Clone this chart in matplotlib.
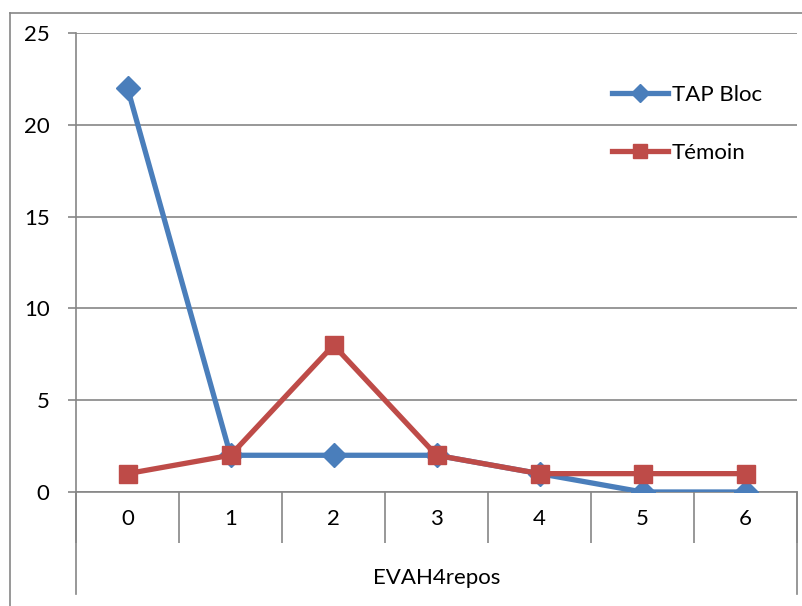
import matplotlib.pyplot as plt
from matplotlib.lines import Line2D

# Data
categories = ["0", "1", "2", "3", "4", "5", "6"]
tap_bloc = [22, 2, 2, 2, 1, 0, 0]
temoin = [1, 2, 8, 2, 1, 1, 1]
y_ticks = [0, 5, 10, 15, 20, 25]

grey = "#868686"
plt.rcParams['font.family'] = ['Lato', 'DejaVu Sans']

fig = plt.figure(figsize=(8.02, 6.06), dpi=100)
ax = fig.add_axes([76 / 802, 1 - 492 / 606, (797 - 76) / 802, (492 - 33) / 606])

x = list(range(len(categories)))
ax.plot(x, tap_bloc, color="#4A7EBB", lw=3.8, marker="D", markersize=12,
        label="TAP Bloc", zorder=3)
ax.plot(x, temoin, color="#BE4B48", lw=3.8, marker="s", markersize=13.5,
        label="Témoin", zorder=4)

ax.set_xlim(-0.5, len(categories) - 0.5)
ax.set_ylim(0, 25)
ax.set_yticks(y_ticks)
ax.yaxis.grid(True, color=grey, lw=1.2)
ax.set_axisbelow(True)
ax.tick_params(axis="y", length=6, width=1.2, color=grey, labelsize=16, pad=13)

# category boundaries as major ticks, labels on minor ticks
ax.set_xticks([i - 0.5 for i in range(len(categories) + 1)])
ax.set_xticklabels([])
ax.tick_params(axis="x", which="major", length=37, width=1.2, color=grey)
ax.set_xticks(x, minor=True)
ax.set_xticklabels(categories, minor=True)
ax.tick_params(axis="x", which="minor", length=0, labelsize=16, pad=12)

for s in ["top", "right"]:
    ax.spines[s].set_visible(False)
for s in ["left", "bottom"]:
    ax.spines[s].set_color(grey)
    ax.spines[s].set_linewidth(1.2)

# outer lines of the category box
tr = ax.get_xaxis_transform()
ax.plot([-0.5, -0.5], [0, -0.222], transform=tr, color=grey, lw=1.2, clip_on=False)
ax.plot([6.5, 6.5], [0, -0.222], transform=tr, color=grey, lw=1.2, clip_on=False)

ax.text(0.5, -0.187, "EVAH4repos", transform=ax.transAxes, ha="center",
        va="center", fontsize=16)

ax.legend(loc="upper left", bbox_to_anchor=(601 / 802, 1 - 74 / 606),
          bbox_transform=fig.transFigure, frameon=False, fontsize=16,
          labelspacing=1.7, handlelength=2.5, handletextpad=0.2, borderpad=0,
          markerscale=0.75)

# chart border (top and left visible)
fig.add_artist(Line2D([9.5 / 802, 9.5 / 802], [0, 1 - 13 / 606], color=grey, lw=1.2))
fig.add_artist(Line2D([9.5 / 802, 1], [1 - 13 / 606, 1 - 13 / 606], color=grey, lw=1.2))

fig.savefig("out.png", dpi=100)
